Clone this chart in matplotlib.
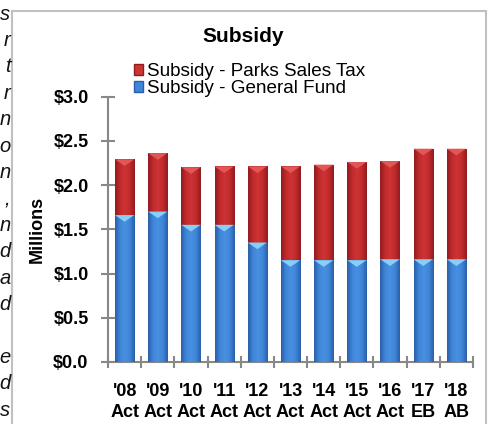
import numpy as np
import matplotlib
matplotlib.use("Agg")
import matplotlib.pyplot as plt
from matplotlib.patches import Rectangle, Polygon, Patch
from matplotlib.colors import LinearSegmentedColormap

plt.rcParams['font.family'] = ['Liberation Sans', 'DejaVu Sans']

# data (millions)
years = ["'08\nAct", "'09\nAct", "'10\nAct", "'11\nAct", "'12\nAct", "'13\nAct",
         "'14\nAct", "'15\nAct", "'16\nAct", "'17\nEB", "'18\nAB"]
general_fund = [1.66, 1.70, 1.55, 1.55, 1.35, 1.15, 1.15, 1.15, 1.16, 1.16, 1.16]
total = [2.29, 2.36, 2.20, 2.21, 2.21, 2.21, 2.23, 2.26, 2.27, 2.41, 2.41]
parks_tax = [t - g for t, g in zip(total, general_fund)]

# text fragments from the neighbouring page column (cut off)
side_text = ["s", "r", "t", "r", "n", "o", "n", ",", "n", "d", "a", "d", "", "e", "d", "s"]

W, H = 490, 424
fig = plt.figure(figsize=(W / 100, H / 100), dpi=100)

# chart frame
fig.patches.append(Rectangle((12 / W, -0.05), 474 / W, (H - 11) / H + 0.05,
                             transform=fig.transFigure, fill=False,
                             ec="#C0C0C0", lw=1.5))

for i, s in enumerate(side_text):
    fig.text(10.5 / W, 1 - (14 + i * 26.4) / H, s, ha="right", va="center",
             fontsize=14.5, style="italic", color="#111111")

ax = fig.add_axes([108 / W, 62 / H, 365 / W, 265.5 / H])

x = np.arange(len(years))
bw = 0.58

blue_cmap = LinearSegmentedColormap.from_list("b", ["#2A5FA8", "#3F86DA", "#4A90E0", "#3F86DA", "#2A5FA8"])
red_cmap = LinearSegmentedColormap.from_list("r", ["#901C1E", "#C22A2C", "#CC3436", "#C22A2C", "#901C1E"])
grad = np.linspace(0, 1, 64).reshape(1, -1)

bars_b = ax.bar(x, general_fund, bw, color="#3F86DA", zorder=2)
bars_r = ax.bar(x, parks_tax, bw, bottom=general_fund, color="#C22A2C", zorder=2)


def shade(bars, cmap, tri_color):
    for b in bars:
        x0, y0 = b.get_x(), b.get_y()
        w, h = b.get_width(), b.get_height()
        im = ax.imshow(grad, cmap=cmap, aspect="auto", extent=(x0, x0 + w, y0, y0 + h),
                       zorder=3, interpolation="bicubic")
        im.set_clip_path(b)
        th = 0.075
        tri = Polygon([(x0, y0 + h), (x0 + w, y0 + h), (x0 + w / 2, y0 + h - th)],
                      closed=True, fc=tri_color, ec="none", zorder=4)
        ax.add_patch(tri)


shade(bars_b, blue_cmap, "#86CFF6")
shade(bars_r, red_cmap, "#E35656")

ax.set_xlim(-0.5, len(years) - 0.5)
ax.set_ylim(0, 3.0)
ax.set_yticks(np.arange(0, 3.01, 0.5))
ax.set_yticklabels(["$%.1f" % v for v in np.arange(0, 3.01, 0.5)],
                   fontsize=13, fontweight="bold")
ax.set_xticks(x)
ax.set_xticklabels(years, fontsize=13, fontweight="bold", linespacing=1.3)
ax.set_xticks(np.arange(-0.5, len(years), 1), minor=True)
ax.tick_params(axis="x", which="major", length=0, pad=15)
ax.tick_params(axis="x", which="minor", length=8, direction="inout", color="#888888", width=1.5)
ax.tick_params(axis="y", length=10, direction="inout", color="#888888", width=1.5, pad=9)

for side in ["top", "right"]:
    ax.spines[side].set_visible(False)
for side in ["left", "bottom"]:
    ax.spines[side].set_color("#888888")
    ax.spines[side].set_linewidth(1.5)

ax.set_ylabel("Millions", fontsize=13, fontweight="bold", labelpad=5)

fig.text(243 / W, 1 - 37 / H, "Subsidy", ha="center", va="center",
         fontsize=15, fontweight="bold")

handles = [Patch(fc="#CC3436", ec="#901C1E"), Patch(fc="#3F86DA", ec="#2A5FA8")]
fig.legend(handles, ["Subsidy - Parks Sales Tax", "Subsidy - General Fund"],
           loc="upper left", bbox_to_anchor=(134 / W, 1 - 63 / H), frameon=False,
           fontsize=13.6, handlelength=0.5, handleheight=0.5, handletextpad=0.2,
           labelspacing=0.0, borderpad=0, borderaxespad=0)

fig.savefig("out.png", dpi=100)
